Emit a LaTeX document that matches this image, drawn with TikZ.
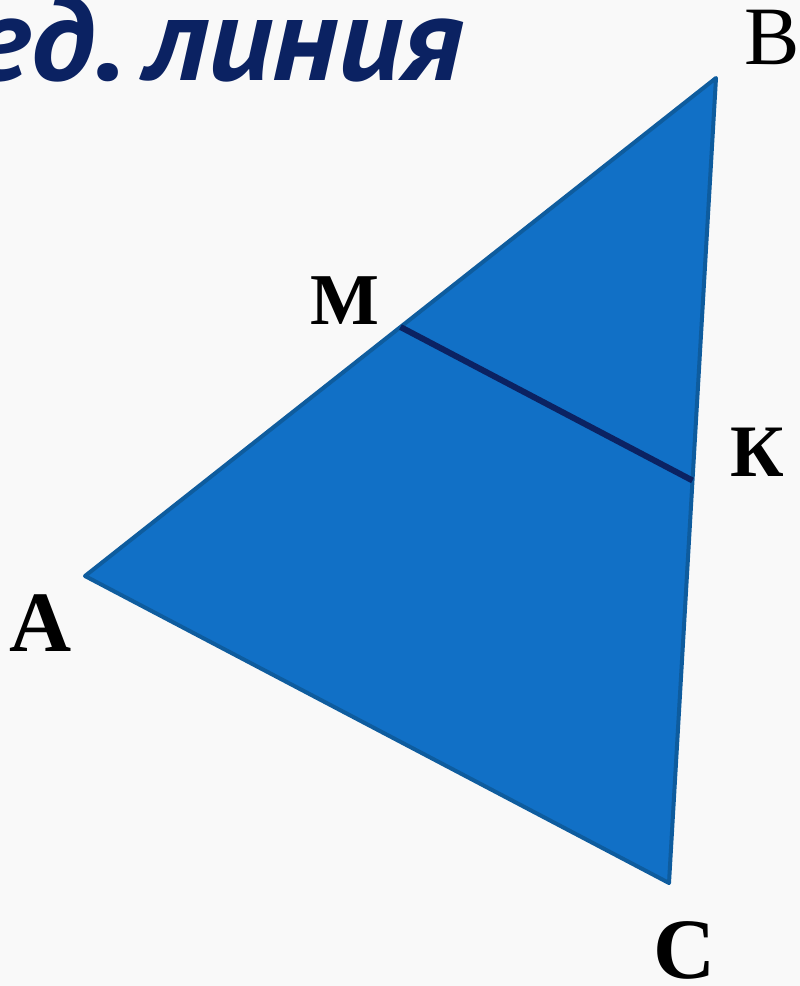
\documentclass[tikz,border=0pt]{standalone}
\usepackage{fontspec}
\usetikzlibrary{calc}
\setmainfont{Liberation Serif}
\newfontfamily\titlefont{PT Sans}
\definecolor{bgc}{HTML}{F9F9F9}
\definecolor{trifill}{HTML}{1170C6}
\definecolor{triedge}{HTML}{0E5C9E}
\definecolor{midc}{HTML}{0B2262}
\definecolor{titlec}{HTML}{0B2262}
\begin{document}
\begin{tikzpicture}[x=1pt,y=-1pt,
  vlabel/.style={inner sep=0pt, text=black, font=\bfseries\fontsize{86}{86}\selectfont},
  titletext/.style={inner sep=0pt, text=titlec, font=\titlefont\bfseries\itshape\fontsize{120}{120}\selectfont},
  tri/.style={fill=trifill, draw=triedge, line width=4pt, line join=round},
  midline/.style={draw=midc, line width=6pt}]
\fill[bgc] (0,0) rectangle (800,986);
\useasboundingbox (0,0) rectangle (800,986);
\begin{scope}
\clip (0,0) rectangle (800,986);
\node[titletext, anchor=base east] (title1) at (126,80) {\scalebox{1.07}[1]{ед.}};
\node[titletext, anchor=base west] (title2) at (145,80) {\scalebox{1.05}[1]{линия}};
\end{scope}
\coordinate (A) at (85,576);
\coordinate (B) at (716,78);
\coordinate (C) at (669,883);
\coordinate (M) at ($(A)!0.5!(B)$);
\coordinate (K) at ($(B)!0.5!(C)$);
\path[tri] (A) -- (B) -- (C) -- cycle;
\draw[midline] (M) -- (K);
\node[vlabel, font=\mdseries\fontsize{83}{83}\selectfont] (lB) at (772,37) {B};
\node[vlabel, font=\bfseries\fontsize{73}{73}\selectfont] (lM) at (345,301) {M};
\node[vlabel, font=\bfseries\fontsize{74}{74}\selectfont] (lK) at (757,452) {К};
\node[vlabel] (lA) at (41,623) {A};
\node[vlabel] (lC) at (685,950) {C};
\end{tikzpicture}
\end{document}
